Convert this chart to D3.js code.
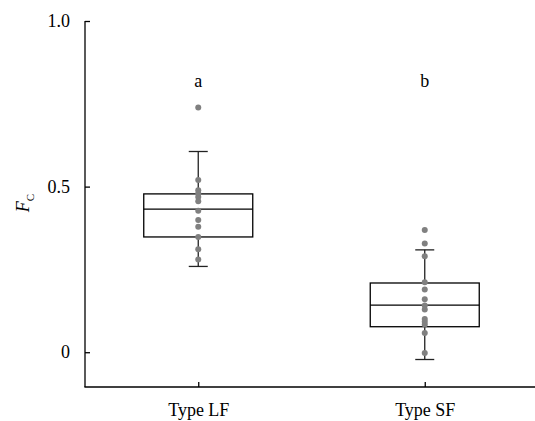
<!DOCTYPE html>
<html><head><meta charset="utf-8">
<script src="https://cdn.jsdelivr.net/npm/d3@7"></script>
<style>
html,body{margin:0;padding:0;background:#fff;}
svg{display:block;font-family:"Liberation Serif","Times New Roman",serif;}
</style></head>
<body><svg id="c" width="535" height="421"></svg>
<script>
const categories = ["Type LF", "Type SF"];
const letters = ["a", "b"];
const q1 = [0.348, 0.077];
const median = [0.432, 0.142];
const q3 = [0.478, 0.209];
const whiskerLow = [0.259, -0.022];
const whiskerHigh = [0.606, 0.309];
const pointsLF = [0.739, 0.520, 0.489, 0.479, 0.469, 0.456, 0.427, 0.399, 0.379, 0.348, 0.311, 0.280];
const pointsSF = [0.369, 0.328, 0.290, 0.211, 0.189, 0.160, 0.141, 0.129, 0.100, 0.092, 0.084, 0.058, -0.002];
const yTicks = [0, 0.5, 1.0];
const yTickLabels = ["0", "0.5", "1.0"];

const svg = d3.select("#c");
const x = d3.scalePoint().domain(categories).range([85, 538]).padding(0.5);
const y = d3.scaleLinear().domain([-0.105, 1.0]).range([387, 21]);

const boxW = 109, capW = 19;

// axes
const yAxis = d3.axisLeft(y).tickValues(yTicks).tickSize(-5).tickPadding(15)
  .tickFormat((d,i) => yTickLabels[i]);
const gy = svg.append("g").attr("transform","translate(85,0)").call(yAxis);
gy.select(".domain").remove();
gy.append("line").attr("x1",0).attr("x2",0).attr("y1",y(1.0)).attr("y2",y(-0.105)).attr("stroke","#000").attr("stroke-width",1.3);
gy.selectAll(".tick line").attr("stroke","#000").attr("stroke-width",1.3);
gy.selectAll(".tick text").attr("font-size",18).attr("fill","#000").attr("font-family","Liberation Serif, serif");

const xAxis = d3.axisBottom(x).tickSize(-5).tickPadding(16);
const gx = svg.append("g").attr("transform","translate(0,387)").call(xAxis);
gx.select(".domain").remove();
gx.append("line").attr("x1",84.4).attr("x2",538).attr("y1",0).attr("y2",0).attr("stroke","#000").attr("stroke-width",1.3);
gx.selectAll(".tick line").attr("stroke","#000").attr("stroke-width",1.3);
gx.selectAll(".tick text").attr("font-size",18).attr("fill","#000").attr("font-family","Liberation Serif, serif");

// y label
const yl = svg.append("text").attr("transform","translate(29,203) rotate(-90)")
  .attr("text-anchor","middle").attr("font-size",18).attr("fill","#000");
yl.append("tspan").attr("font-style","italic").text("F");
yl.append("tspan").attr("font-size",11).attr("dy",5).text("C");

// boxes
const stats = categories.map((c,i)=>({c, q1:q1[i], med:median[i], q3:q3[i], lo:whiskerLow[i], hi:whiskerHigh[i], letter:letters[i]}));
const g = svg.append("g");
stats.forEach(s=>{
  const cx = x(s.c);
  const col = "#222";
  g.append("line").attr("x1",cx).attr("x2",cx).attr("y1",y(s.hi)).attr("y2",y(s.q3)).attr("stroke",col).attr("stroke-width",1.3);
  g.append("line").attr("x1",cx).attr("x2",cx).attr("y1",y(s.q1)).attr("y2",y(s.lo)).attr("stroke",col).attr("stroke-width",1.3);
  g.append("line").attr("x1",cx-capW/2).attr("x2",cx+capW/2).attr("y1",y(s.hi)).attr("y2",y(s.hi)).attr("stroke",col).attr("stroke-width",1.3);
  g.append("line").attr("x1",cx-capW/2).attr("x2",cx+capW/2).attr("y1",y(s.lo)).attr("y2",y(s.lo)).attr("stroke",col).attr("stroke-width",1.3);
  g.append("rect").attr("x",cx-boxW/2).attr("y",y(s.q3)).attr("width",boxW).attr("height",y(s.q1)-y(s.q3))
    .attr("fill","none").attr("stroke","#000").attr("stroke-width",1.3);
  g.append("line").attr("x1",cx-boxW/2).attr("x2",cx+boxW/2).attr("y1",y(s.med)).attr("y2",y(s.med)).attr("stroke","#000").attr("stroke-width",1.3);
  g.append("text").attr("x",cx).attr("y",87).attr("text-anchor","middle").attr("font-size",18).attr("fill","#000").text(s.letter);
});

// points
const pts = [[categories[0], pointsLF],[categories[1], pointsSF]];
pts.forEach(([c,vals])=>{
  g.selectAll(null).data(vals).enter().append("circle")
    .attr("cx",x(c)).attr("cy",d=>y(d)).attr("r",3).attr("fill","#808080");
});
</script></body></html>
